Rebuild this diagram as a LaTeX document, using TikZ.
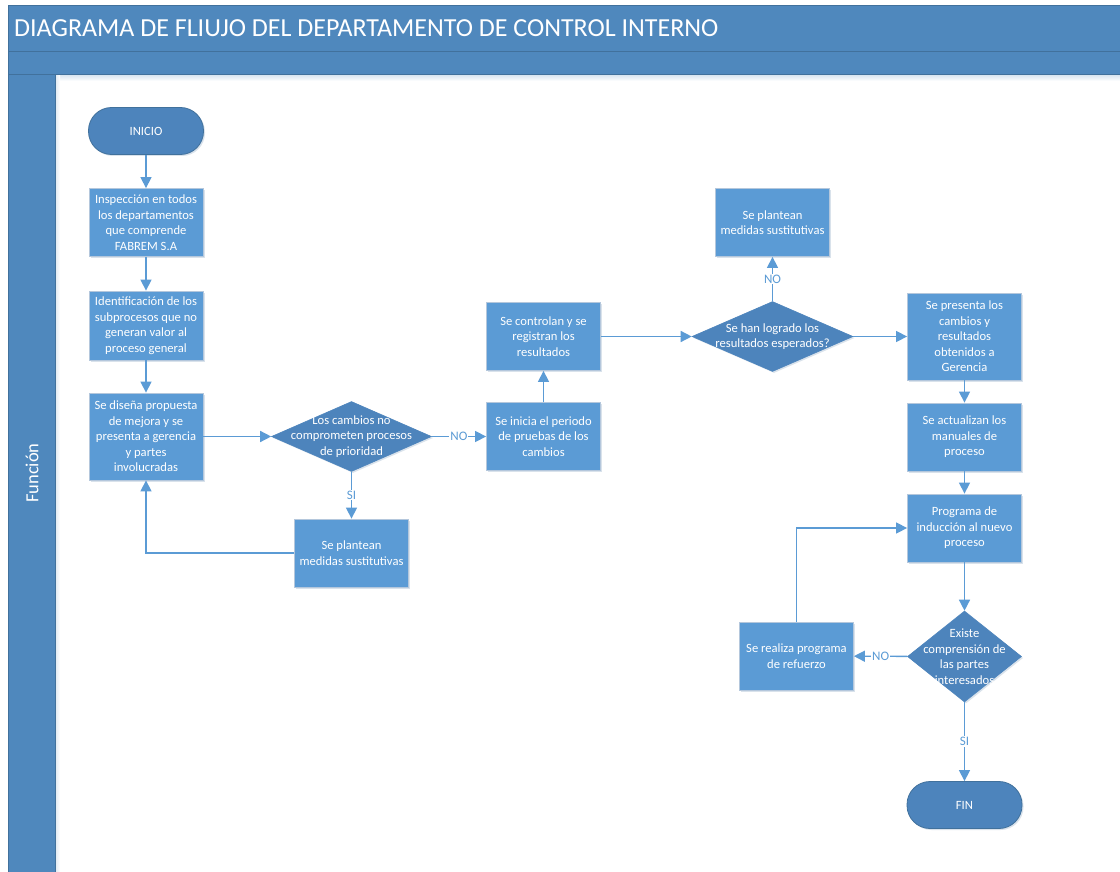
\documentclass[tikz,border=0pt]{standalone}
\usepackage{fontspec}
\setmainfont{Carlito}
\usetikzlibrary{shapes.geometric,arrows.meta,shadows}

\definecolor{boxblue}{HTML}{5B9BD5}
\definecolor{boxedge}{HTML}{B4C7DC}
\definecolor{darkblue}{HTML}{4D84BC}
\definecolor{darkedge}{HTML}{41719C}
\definecolor{headblue}{HTML}{4F88BD}
\definecolor{lineblue}{HTML}{5B9BD5}

\tikzset{
  txt/.style={font=\fontsize{12.6}{15.5}\selectfont, text=white, align=center},
  stepbox/.style={txt, rectangle, fill=boxblue, draw=boxedge, line width=0.8pt,
    minimum width=114pt, minimum height=68pt, inner sep=2pt,
    drop shadow={shadow xshift=1.5pt, shadow yshift=-1.5pt, opacity=0.2, fill=darkedge}},
  decision/.style={diamond, fill=darkblue, draw=darkblue, line width=0.6pt, inner sep=0pt,
    drop shadow={shadow xshift=1.5pt, shadow yshift=-1.5pt, opacity=0.2, fill=darkedge}},
  terminal/.style={txt, rectangle, rounded corners=23pt, fill=darkblue, draw=darkedge,
    line width=0.8pt, minimum width=115pt, minimum height=47pt,
    drop shadow={shadow xshift=1.5pt, shadow yshift=-1.5pt, opacity=0.2, fill=darkedge}},
  conn/.style={draw=lineblue, line width=1.4pt, -{Triangle[length=11pt,width=11pt]}},
  lbl/.style={font=\fontsize{13}{15}\selectfont, text=lineblue, fill=white, inner sep=1pt}
}

\begin{document}
\begin{tikzpicture}[x=1pt,y=-1pt]
\useasboundingbox (0,0) rectangle (1120,872);
\fill[white] (0,0) rectangle (1120,872);

% pool header, sub band and lane
\shade[top color=headblue!25, bottom color=white] (55,74) rectangle (1120,81);
\shade[left color=headblue!20, right color=white] (55,74) rectangle (60,872);
\draw[fill=headblue, draw=darkedge, line width=0.8pt] (8,5) rectangle (1122,51);
\draw[fill=headblue, draw=darkedge, line width=0.8pt] (8,51) rectangle (1122,74);
\draw[fill=headblue, draw=darkedge, line width=0.8pt] (8,74) rectangle (55,874);
\node[anchor=west, text=white, font=\fontsize{26}{30}\selectfont, inner sep=0pt] (title) at (14,28)
  {DIAGRAMA DE FLIUJO DEL DEPARTAMENTO DE CONTROL INTERNO};
\node[rotate=90, text=white, font=\fontsize{18.5}{22}\selectfont] (lane) at (32,473) {Función};

% left column
\node[terminal] (inicio) at (146,131) {INICIO};
\node[stepbox] (b1) at (146,222.5) {Inspección en todos\\los departamentos\\que comprende\\FABREM S.A};
\node[stepbox, minimum height=69pt] (b2) at (146,325.5) {Identificación de los\\subprocesos que no\\generan valor al\\proceso general};
\node[stepbox, minimum height=87pt] (b3) at (146,436.5) {Se diseña propuesta\\de mejora y se\\presenta a gerencia\\y partes\\involucradas};

% first decision
\node[decision, minimum width=160pt, minimum height=70pt] (d1) at (351.5,436.5) {};
\node[txt] (d1t) at (351.5,436.5) {Los cambios no\\comprometen procesos\\de prioridad};
\node[stepbox] (s1) at (351.5,553) {Se plantean\\medidas sustitutivas};

% test period
\node[stepbox] (b4) at (543.5,436.5) {Se inicia el periodo\\de pruebas de los\\cambios};
\node[stepbox] (b5) at (543.5,336.5) {Se controlan y se\\registran los\\resultados};

% second decision
\node[decision, minimum width=161pt, minimum height=70pt] (d2) at (772.5,336.5) {};
\node[txt] (d2t) at (772.5,336.5) {Se han logrado los\\resultados esperados?};
\node[stepbox] (s2) at (772.5,222.5) {Se plantean\\medidas sustitutivas};

% right column
\node[stepbox, minimum height=87pt] (b6) at (964.5,336.5) {Se presenta los\\cambios y\\resultados\\obtenidos a\\Gerencia};
\node[stepbox] (b7) at (964.5,437) {Se actualizan los\\manuales de\\proceso};
\node[stepbox] (b8) at (964.5,528) {Programa de\\inducción al nuevo\\proceso};
\node[decision, minimum width=114pt, minimum height=91pt] (d3) at (964.5,656.5) {};
\node[txt] (d3t) at (964.5,656.5) {Existe\\comprensión de\\las partes\\interesados};
\node[stepbox] (b9) at (796.5,656) {Se realiza programa\\de refuerzo};
\node[terminal] (fin) at (964.5,805) {FIN};

% connectors
\draw[conn] (inicio) -- (b1);
\draw[conn] (b1) -- (b2);
\draw[conn] (b2) -- (b3);
\draw[conn] (b3) -- (d1);
\draw[conn] (d1) -- node[lbl] {SI} (s1);
\draw[conn] (s1.west) -| (b3.south);
\draw[conn] (d1) -- node[lbl] {NO} (b4);
\draw[conn] (b4) -- (b5);
\draw[conn] (b5) -- (d2);
\draw[conn] (d2) -- node[lbl] {NO} (s2);
\draw[conn] (d2) -- (b6);
\draw[conn] (b6) -- (b7);
\draw[conn] (b7) -- (b8);
\draw[conn] (b8) -- (d3);
\draw[conn] (d3) -- node[lbl] {NO} (b9);
\draw[conn] (b9.north) |- (b8.west);
\draw[conn] (d3) -- node[lbl] {SI} (fin);
\end{tikzpicture}
\end{document}
